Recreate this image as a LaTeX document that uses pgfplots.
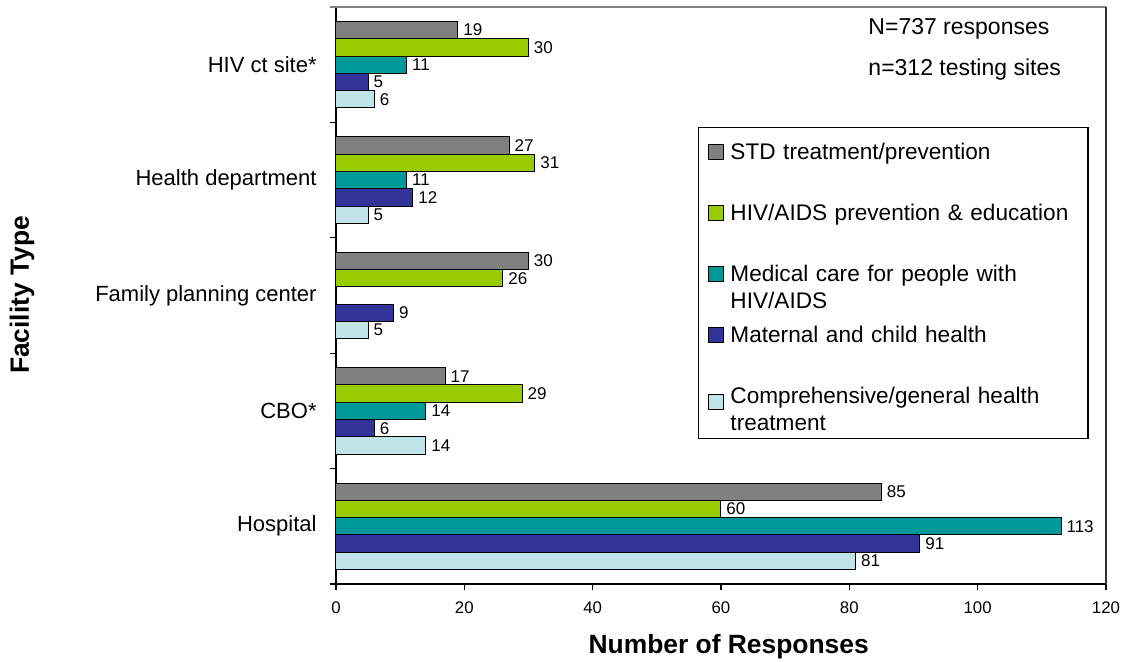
\documentclass[border=0pt]{standalone}
\usepackage{fontspec}
\setmainfont{Liberation Sans}
\usepackage{pgfplots}
\pgfplotsset{compat=1.18}
\definecolor{cstd}{HTML}{808080}
\definecolor{chiv}{HTML}{99CC00}
\definecolor{cmed}{HTML}{009999}
\definecolor{cmat}{HTML}{333399}
\definecolor{ccom}{HTML}{C0E4E8}
\pgfplotsset{
  sq/.style={legend image code/.code={\draw[##1,draw=black,line width=0.5pt] (0pt,-2.25pt) rectangle (7.5pt,5.25pt);}},
}
\begin{document}
\begin{tikzpicture}
\begin{axis}[
  at={(0,0)}, anchor=south west,
  scale only axis, width=385pt, height=288.5pt,
  xbar, bar width=0.15,
  xmin=0, xmax=120, ymin=-0.5, ymax=4.5,
  y dir=reverse,
  clip=false,
  axis x line*=bottom, axis y line*=left,
  axis line style={black, line width=0.6pt},
  tick align=outside, major tick length=3pt,
  tick style={black, line width=0.6pt},
  xtick={0,20,...,120},
  /pgf/number format/assume math mode=true,
  xticklabel style={font=\fontsize{8.4}{10}\selectfont, yshift=-2.2pt},
  ytick={-0.5,0.5,...,4.5}, yticklabels={},
  extra y ticks={0,1,2,3,4},
  extra y tick labels={HIV ct site*, Health department, Family planning center, CBO*, Hospital},
  extra y tick style={major tick length=0pt, yticklabel style={font=\fontsize{11}{13}\selectfont, inner xsep=0pt, xshift=-9.5pt}},
  point meta=x,
  nodes near coords,
  every node near coord/.append style={font=\fontsize{8.5}{10}\selectfont, inner xsep=2.5pt, black},
  xlabel={Number of Responses},
  every axis x label/.style={at={(rel axis cs:0.510,-0.1213)}, anchor=base, font=\fontsize{13.2}{15}\selectfont\bfseries},
  ylabel={Facility Type},
  every axis y label/.style={at={(rel axis cs:-0.3987,0.5009)}, rotate=90, anchor=base, font=\fontsize{13.2}{15}\selectfont\bfseries},
  legend style={at={(rel axis cs:0.470,0.792)}, anchor=north west, draw=black, line width=0.6pt, fill=white,
    font=\fontsize{11.3}{13.3}\selectfont, inner xsep=4.75pt, inner ysep=8pt, row sep=19.5pt, column sep=3.25pt,
    nodes={inner sep=0pt, text height=8pt, text depth=3pt, text width=174pt}},
  legend cell align=left,
]
\addplot[sq, fill=cstd, draw=black, line width=0.5pt, bar shift=-0.3] coordinates {(19,0) (27,1) (30,2) (17,3) (85,4)};
\addlegendentry{STD treatment/prevention}
\addplot[sq, fill=chiv, draw=black, line width=0.5pt, bar shift=-0.15] coordinates {(30,0) (31,1) (26,2) (29,3) (60,4)};
\addlegendentry{HIV/AIDS prevention \& education}
\addplot[sq, fill=cmed, draw=black, line width=0.5pt, bar shift=0] coordinates {(11,0) (11,1) (14,3) (113,4)};
\addlegendentry{\begin{tabular}[t]{@{}l@{}}Medical care for people with\\HIV/AIDS\end{tabular}}
\addplot[sq, fill=cmat, draw=black, line width=0.5pt, bar shift=0.15] coordinates {(5,0) (12,1) (9,2) (6,3) (91,4)};
\addlegendentry{Maternal and child health}
\addplot[sq, fill=ccom, draw=black, line width=0.5pt, bar shift=0.3] coordinates {(6,0) (5,1) (5,2) (14,3) (81,4)};
\addlegendentry[text depth=9.5pt]{\begin{tabular}[t]{@{}l@{}}Comprehensive/general health\\treatment\end{tabular}}
\draw[color=cstd, line width=0.6pt] (rel axis cs:-0.008,1) -- (rel axis cs:1,1);
\draw[color=black!80, line width=0.6pt] (rel axis cs:1,1) -- (rel axis cs:1,0);
\node[anchor=base west, inner sep=0pt, font=\fontsize{11.5}{13}\selectfont] at (rel axis cs:0.691,0.9515) {N=737 responses};
\node[anchor=base west, inner sep=0pt, font=\fontsize{11.5}{13}\selectfont] at (rel axis cs:0.691,0.882) {n=312 testing sites};
\coordinate (SW) at (rel axis cs:0,0);
\end{axis}
\pgfresetboundingbox
\path[use as bounding box] ([xshift=-168pt,yshift=-39pt]SW) rectangle ([xshift=395pt,yshift=292pt]SW);
\end{tikzpicture}
\end{document}
